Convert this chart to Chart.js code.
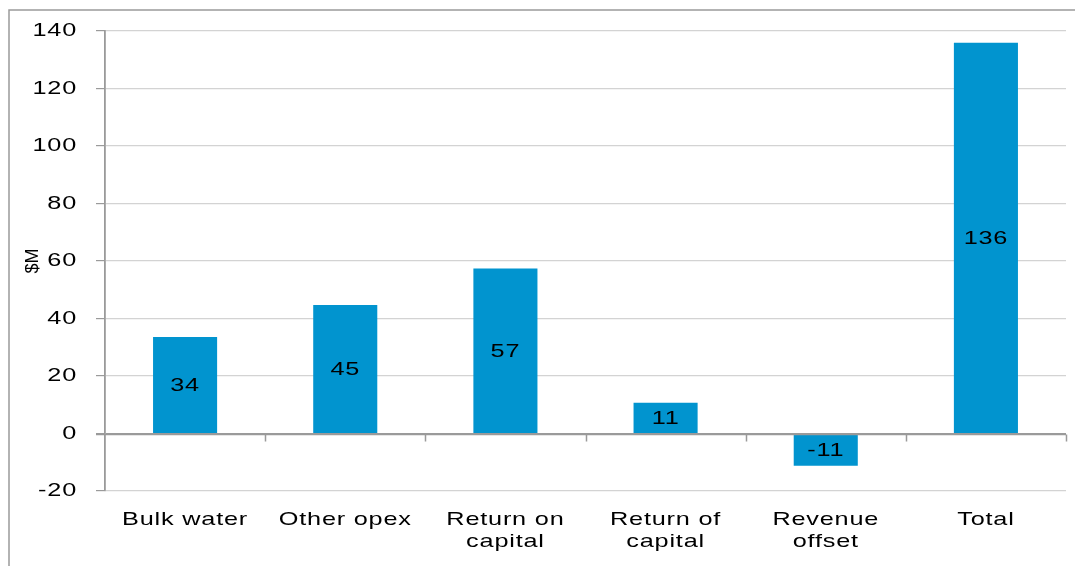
<!DOCTYPE html>
<html>
<head>
<meta charset="utf-8">
<script src="https://cdn.jsdelivr.net/npm/chart.js@4/dist/chart.umd.min.js"></script>
<style>
  html, body { margin: 0; padding: 0; background: #ffffff; }
  #wrap { width: 1075px; height: 566px; }
</style>
</head>
<body>
<div id="wrap"><canvas id="c" width="1075" height="566"></canvas></div>
<script>
const categories = [["Bulk water"], ["Other opex"], ["Return on", "capital"], ["Return of", "capital"], ["Revenue", "offset"], ["Total"]];
const values = [33.6, 44.7, 57.4, 10.7, -11.2, 135.9];
const valueLabels = ["34", "45", "57", "11", "-11", "136"];
const yTicks = [-20, 0, 20, 40, 60, 80, 100, 120, 140];

const FONT = "'Liberation Sans', Arial, sans-serif";
const SX = 1.33;      // horizontal widening of horizontal text
const SPACING = '0.6px';

// Widen horizontal text (real text, drawn with fillText) to match the reference's wide lettering
const canvas = document.getElementById('c');
const cctx = canvas.getContext('2d');
const origFill = cctx.fillText.bind(cctx);
const origMeasure = cctx.measureText.bind(cctx);
function isRotated(ctx) { const t = ctx.getTransform(); return Math.abs(t.b) > 1e-6 || Math.abs(t.c) > 1e-6; }
cctx.fillText = function (text, x, y, maxWidth) {
  if (isRotated(cctx)) {
    cctx.letterSpacing = '0px';
    if (maxWidth === undefined) origFill(text, x, y); else origFill(text, x, y, maxWidth);
    return;
  }
  cctx.letterSpacing = SPACING;
  cctx.save();
  cctx.translate(x, y);
  cctx.scale(SX, 1);
  if (maxWidth === undefined) origFill(text, 0, 0); else origFill(text, 0, 0, maxWidth / SX);
  cctx.restore();
};
cctx.measureText = function (text) {
  cctx.letterSpacing = SPACING;
  const m = origMeasure(text);
  return {
    width: m.width * SX,
    actualBoundingBoxLeft: m.actualBoundingBoxLeft * SX,
    actualBoundingBoxRight: m.actualBoundingBoxRight * SX,
    actualBoundingBoxAscent: m.actualBoundingBoxAscent,
    actualBoundingBoxDescent: m.actualBoundingBoxDescent,
    fontBoundingBoxAscent: m.fontBoundingBoxAscent,
    fontBoundingBoxDescent: m.fontBoundingBoxDescent
  };
};

const framePlugin = {
  id: 'frame',
  beforeDraw(chart) {
    const ctx = chart.ctx;
    ctx.save();
    ctx.strokeStyle = '#9a9a9a';
    ctx.lineWidth = 1.5;
    ctx.strokeRect(9, 10, 2000, 2000);
    ctx.restore();
  }
};

const axisPlugin = {
  id: 'zeroAxis',
  afterDatasetsDraw(chart) {
    const ctx = chart.ctx;
    const x = chart.scales.x, y = chart.scales.y;
    const y0 = Math.round(y.getPixelForValue(0)) + 0.5;
    ctx.save();
    ctx.strokeStyle = '#9a9a9a';
    ctx.lineWidth = 1.5;
    ctx.beginPath();
    ctx.moveTo(chart.chartArea.left - 9, y0);
    ctx.lineTo(chart.chartArea.right, y0);
    const n = categories.length;
    for (let i = 1; i <= n; i++) {
      let bx;
      if (i < n) bx = (x.getPixelForValue(i - 1) + x.getPixelForValue(i)) / 2;
      else bx = chart.chartArea.right;
      bx = Math.round(bx) + 0.5;
      ctx.moveTo(bx, y0);
      ctx.lineTo(bx, y0 + 7);
    }
    ctx.stroke();
    ctx.fillStyle = '#000000';
    ctx.font = '19px ' + FONT;
    ctx.textAlign = 'center';
    ctx.textBaseline = 'middle';
    const meta = chart.getDatasetMeta(0);
    meta.data.forEach((bar, i) => {
      ctx.fillText(valueLabels[i], bar.x, (bar.y + bar.base) / 2 + 1);
    });
    ctx.restore();
  }
};

new Chart(canvas, {
  type: 'bar',
  data: {
    labels: categories,
    datasets: [{
      data: values,
      backgroundColor: '#0194cf',
      borderWidth: 0,
      barPercentage: 0.4,
      categoryPercentage: 1.0
    }]
  },
  options: {
    responsive: false,
    animation: false,
    devicePixelRatio: 1,
    layout: { padding: { left: 0, top: 31, right: 9, bottom: 0 } },
    plugins: { legend: { display: false }, tooltip: { enabled: false } },
    scales: {
      x: {
        grid: { display: false, drawTicks: false },
        border: { display: false },
        ticks: {
          color: '#000000',
          font: { family: FONT, size: 19, lineHeight: 1.2 },
          padding: 17,
          maxRotation: 0,
          autoSkip: false
        },
        afterFit(s) { s.height = 75; }
      },
      y: {
        min: -20,
        max: 140,
        afterBuildTicks(s) { s.ticks = yTicks.map(v => ({ value: v })); },
        grid: {
          color: (c) => c.tick && c.tick.value === 0 ? '#9a9a9a' : '#d3d3d3',
          lineWidth: 1.2,
          drawTicks: true,
          tickLength: 9,
          tickColor: '#9a9a9a'
        },
        border: { display: true, color: '#9a9a9a', width: 1.8 },
        ticks: {
          color: '#000000',
          font: { family: FONT, size: 19 },
          padding: 19
        },
        title: {
          display: true,
          text: '$M',
          color: '#000000',
          font: { family: FONT, size: 18 },
          padding: { top: 22, bottom: 0 }
        },
        afterFit(s) { s.width = 105; }
      }
    }
  },
  plugins: [framePlugin, axisPlugin]
});
</script>
</body>
</html>
